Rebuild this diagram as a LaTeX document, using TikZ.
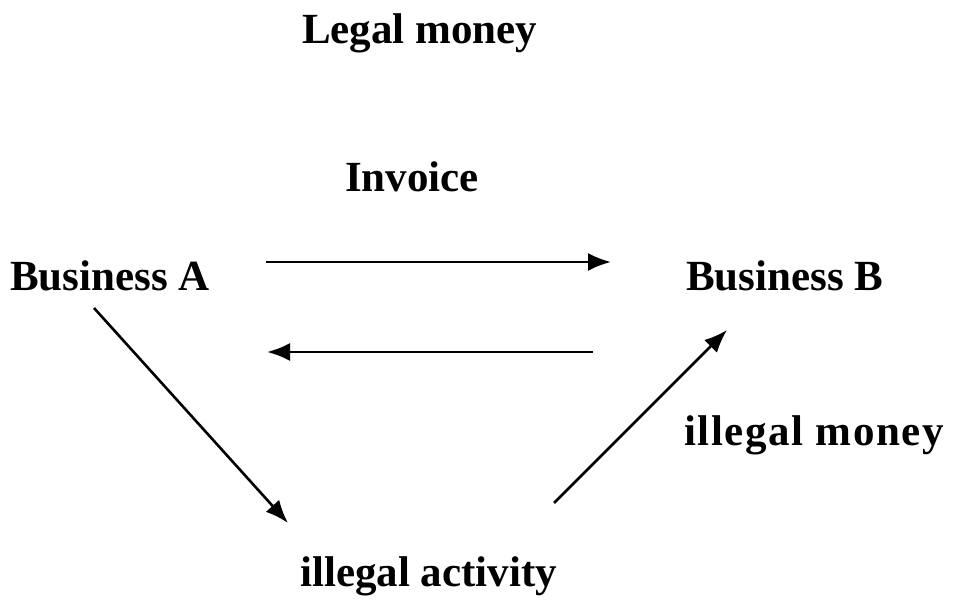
\documentclass[tikz,border=0pt]{standalone}
\usepackage{fontspec}
\setmainfont{Liberation Serif}
\usetikzlibrary{arrows.meta}

\begin{document}
\begin{tikzpicture}[x=1pt,y=-1pt,font=\fontsize{43}{50}\selectfont\bfseries]
\useasboundingbox (0,0) rectangle (956,601);
\node[inner sep=0pt, anchor=base west] (L) at (302,44) {Legal money};
\node[inner sep=0pt, anchor=base west] (I) at (345,192) {Invoice};
\node[inner sep=0pt, anchor=base west] (A) at (10,291) {Business A};
\node[inner sep=0pt, anchor=base west] (B) at (686,291) {Business B};
\node[inner sep=0pt, anchor=base west] (M) at (684,446) {\addfontfeature{LetterSpace=3.7}illegal money};
\node[inner sep=0pt, anchor=base west] (V) at (300,586) {illegal activity};

\coordinate (a1) at (266,262);
\coordinate (b1) at (611,262);
\coordinate (b2) at (593,352);
\coordinate (a2) at (267,352);
\coordinate (a3) at (94,308);
\coordinate (v1) at (288,523);
\coordinate (v2) at (554,503);
\coordinate (b3) at (727,330);

\draw[line width=2.6pt, -{Latex[length=23pt,width=18pt]}] (a1) -- (b1);
\draw[line width=2.6pt, -{Latex[length=23pt,width=18pt]}] (b2) -- (a2);
\draw[line width=2.6pt, -{Latex[length=23pt,width=18pt]}] (a3) -- (v1);
\draw[line width=2.6pt, -{Latex[length=23pt,width=18pt]}] (v2) -- (b3);
\end{tikzpicture}
\end{document}
